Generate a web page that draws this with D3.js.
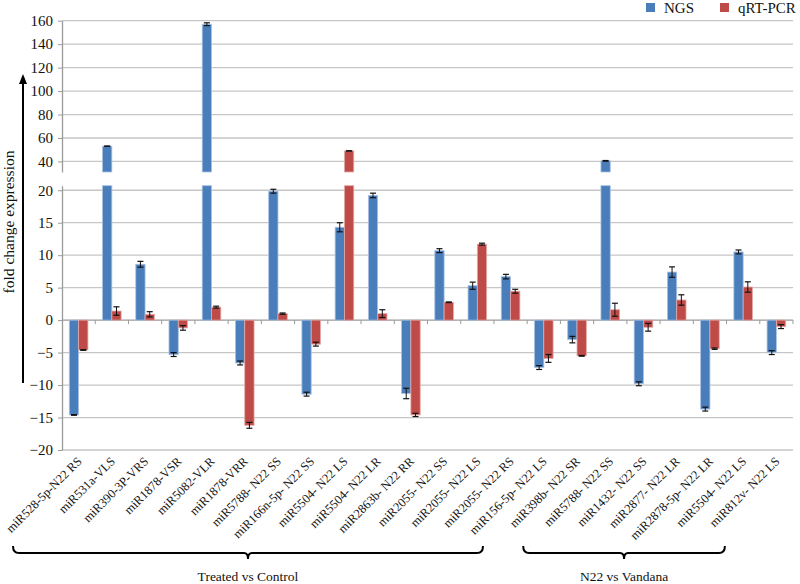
<!DOCTYPE html>
<html><head><meta charset="utf-8">
<script src="https://cdn.jsdelivr.net/npm/d3@7"></script>
<style>body{margin:0;background:#fff}svg{display:block;font-family:'Liberation Serif','Times New Roman',serif}</style>
</head><body>
<svg id="c" width="800" height="584"></svg>
<script>
const categories = ["miR528-5p-N22 RS","miR531a-VLS","miR390-3P-VRS","miR1878-VSR","miR5082-VLR","miR1878-VRR","miR5788- N22 SS","miR166n-5p- N22 SS","miR5504- N22 LS","miR5504- N22 LR","miR2863b- N22 RR","miR2055- N22 SS","miR2055- N22 LS","miR2055- N22 RS","miR156-5p- N22 LS","miR398b- N22 SR","miR5788- N22 SS","miR1432- N22 SS","miR2877- N22 LR","miR2878-5p- N22 LR","miR5504- N22 LS","miR812v- N22 LS"];
const ngs    = [-14.6, 53, 8.6, -5.3, 157, -6.6, 19.85, -11.4, 14.3, 19.2, -11.3, 10.7, 5.3, 6.7, -7.3, -3.0, 40.5, -9.8, 7.4, -13.7, 10.5, -5.0];
const ngsErr = [0.05, 0.1, 0.45, 0.3, 1.2, 0.3, 0.3, 0.3, 0.7, 0.35, 0.8, 0.3, 0.55, 0.35, 0.3, 0.5, 0.3, 0.3, 0.8, 0.3, 0.3, 0.3];
const qpcr   = [-4.6, 1.4, 0.9, -1.2, 2.0, -16.2, 1.0, -3.7, 49, 1.0, -14.6, 2.75, 11.7, 4.45, -5.9, -5.5, 1.6, -1.1, 3.1, -4.4, 5.1, -1.0];
const qErr   = [0.05, 0.65, 0.4, 0.35, 0.15, 0.45, 0.1, 0.3, 0.1, 0.6, 0.25, 0.05, 0.15, 0.3, 0.6, 0.05, 1.0, 0.6, 0.8, 0.1, 0.8, 0.3];
const seriesNames = ["NGS", "qRT-PCR"];
const colors = ["#4a7ebb", "#be4b48"];
const strokes = ["#a9c2e3", "#e3a9a7"];
const topTicks = [40, 60, 80, 100, 120, 140, 160];
const botTicks = [-20, -15, -10, -5, 0, 5, 10, 15, 20];
const groups = [{label:"Treated vs Control", from:0, to:12}, {label:"N22 vs Vandana", from:14, to:20}];

const svg = d3.select("#c");
const font = "'Liberation Serif','Times New Roman',serif";
const L = 62, R = 793;
const topRange = [172, 20.7], botRange = [450, 185.7];
const yTop = d3.scaleLinear().domain([31, 160]).range(topRange);
const yBot = d3.scaleLinear().domain([-20, 20.7]).range(botRange);
const idx = categories.map((d, i) => i);
const x = d3.scaleBand().domain(idx).range([L, R]).padding(0);
const bw = x.bandwidth();
const xs = d3.scaleBand().domain(seriesNames).range([bw*0.22, bw*0.78]).padding(0);

// gridlines
const grid = svg.append("g");
grid.selectAll(".gt").data(topTicks).enter().append("line")
  .attr("x1", L).attr("x2", R).attr("y1", d=>yTop(d)).attr("y2", d=>yTop(d))
  .attr("stroke", "#c6c6c6").attr("stroke-width", 1.3);
grid.selectAll(".gb").data(botTicks).enter().append("line")
  .attr("x1", L).attr("x2", R).attr("y1", d=>yBot(d)).attr("y2", d=>yBot(d))
  .attr("stroke", d=> d===0 ? "#9a9a9a" : "#c6c6c6").attr("stroke-width", 1.3);

// category ticks on zero line
svg.append("g").selectAll("line").data(idx).enter().append("line")
  .attr("x1", d => x(d) + bw).attr("x2", d => x(d) + bw)
  .attr("y1", yBot(0)).attr("y2", yBot(0)+4)
  .attr("stroke", "#9a9a9a").attr("stroke-width", 1);

// axes
function styleAxis(g){
  g.attr("font-family", font);
  g.select(".domain").attr("stroke", "#9a9a9a").attr("stroke-width", 1.3);
  g.selectAll(".tick line").attr("stroke", "#9a9a9a");
  g.selectAll(".tick text").attr("font-family", font).attr("font-size", 15).attr("fill", "#111").attr("dx", -1);
}
svg.append("g").attr("transform", `translate(${L},0)`)
  .call(d3.axisLeft(yTop).tickValues(topTicks).tickSize(4).tickSizeOuter(0).tickPadding(4))
  .call(styleAxis);
svg.append("g").attr("transform", `translate(${L},0)`)
  .call(d3.axisLeft(yBot).tickValues(botTicks).tickSize(4).tickSizeOuter(0).tickPadding(4))
  .call(styleAxis);

// bars
const series = [ {name:"NGS", vals:ngs, err:ngsErr}, {name:"qRT-PCR", vals:qpcr, err:qErr} ];
const barsG = svg.append("g");
const errG = svg.append("g");
series.forEach((s, si) => {
  s.vals.forEach((v, i) => {
    const bx = x(i) + xs(s.name);
    const w = xs.bandwidth();
    const rects = [];
    const broken = v > yTop.domain()[0];
    if (broken) {
      rects.push([yBot(0), botRange[1]]);
      rects.push([topRange[0], yTop(v)]);
    } else {
      rects.push([yBot(0), yBot(v)]);
    }
    rects.forEach(([a, b]) => {
      barsG.append("rect").attr("x", bx).attr("width", w)
        .attr("y", Math.min(a, b)).attr("height", Math.abs(a - b))
        .attr("fill", colors[si]).attr("stroke", strokes[si]).attr("stroke-width", 0.8);
    });
    const ys = broken ? yTop : yBot;
    const cx = bx + w/2;
    const y1 = ys(v + s.err[i]), y2 = ys(v - s.err[i]);
    errG.append("line").attr("x1", cx).attr("x2", cx).attr("y1", y1).attr("y2", y2).attr("stroke", "#111").attr("stroke-width", 1);
    [y1, y2].forEach(yy => errG.append("line").attr("x1", cx-3).attr("x2", cx+3).attr("y1", yy).attr("y2", yy).attr("stroke", "#111").attr("stroke-width", 1.2));
  });
});

// x labels
svg.append("g").selectAll("text").data(idx).enter().append("text")
  .attr("transform", d => `translate(${x(d) + bw/2 + 4},${462}) rotate(-45)`)
  .attr("text-anchor", "end").attr("font-family", font).attr("font-size", 12.5).attr("fill", "#111")
  .text(d => categories[d]);

// y label + arrow
svg.append("text").attr("transform", "translate(14,222) rotate(-90)")
  .attr("text-anchor", "middle").attr("font-family", font).attr("font-size", 15.5).attr("fill", "#111")
  .text("fold change expression");
svg.append("line").attr("x1", 23).attr("x2", 23).attr("y1", 383).attr("y2", 82).attr("stroke", "#000").attr("stroke-width", 2);
svg.append("path").attr("d", "M23,74 L19,84 L27,84 Z").attr("fill", "#000");

// legend
const leg = svg.append("g");
const legX = [646, 720];
seriesNames.forEach((n, i) => {
  leg.append("rect").attr("x", legX[i]).attr("y", 3).attr("width", 9).attr("height", 9).attr("fill", colors[i]);
  leg.append("text").attr("x", legX[i] + 18).attr("y", 13).attr("font-family", font).attr("font-size", 15).attr("fill", "#111").text(n);
});

// group brackets (under the slanted labels: shifted left of category centres)
const brG = svg.append("g");
groups.forEach(g => {
  const x0 = g.from === 0 ? 13 : x(g.from) - bw*0.12;
  const x1 = g.from === 0 ? x(g.to) + bw*0.67 : x(g.to) - bw*0.05;
  const xm = (x0 + x1) / 2;
  const yb = 553;
  brG.append("path")
    .attr("d", `M${x0},${yb-7} Q${x0},${yb} ${x0+6},${yb} L${xm-4},${yb} Q${xm},${yb} ${xm},${yb+6} Q${xm},${yb} ${xm+4},${yb} L${x1-6},${yb} Q${x1},${yb} ${x1},${yb-7}`)
    .attr("fill", "none").attr("stroke", "#000").attr("stroke-width", 2);
  brG.append("text").attr("x", xm).attr("y", 581).attr("text-anchor", "middle")
    .attr("font-family", font).attr("font-size", 13.5).attr("fill", "#111").text(g.label);
});
</script>
</body></html>
